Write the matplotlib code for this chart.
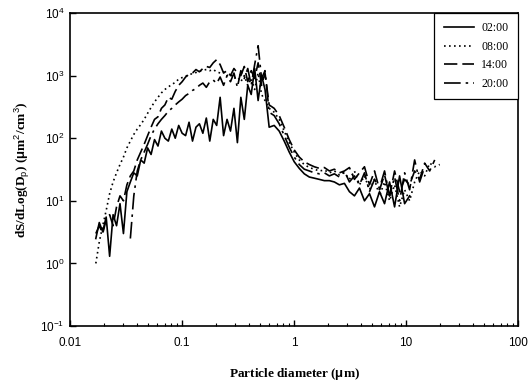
import numpy as np
import matplotlib
matplotlib.use("Agg")
import matplotlib.pyplot as plt
from matplotlib.ticker import FixedLocator, LogLocator, NullFormatter

plt.rcParams['mathtext.fontset'] = 'custom'
plt.rcParams['mathtext.rm'] = 'Liberation Sans'
plt.rcParams['mathtext.it'] = 'Liberation Sans:italic'
plt.rcParams['mathtext.bf'] = 'Liberation Sans:bold'

# SMPS channels (0.017 - 0.55 um) and APS channels (0.6 - 20 um), log spaced
d_smps = np.geomspace(0.017, 0.551, 50)
d_aps = np.geomspace(0.6, 20, 35)

nan = np.nan

s0200_smps = [2.5, 4.5, 3.2, 5.5, 1.3, 6, 4, 9, 3, 14,
              20, 28, 25, 45, 40, 70, 55, 95, 75, 130,
              100, 90, 140, 100, 160, 120, 110, 180, 90, 150,
              170, 120, 210, 90, 200, 160, 450, 110, 200, 130,
              300, 85, 450, 200, 700, 500, 1300, 400, 1000, 600]
s0800_smps = [1.0, 2.2, 4, 7, 13, 20, 28, 38, 50, 70,
              90, 115, 140, 165, 200, 250, 310, 380, 450, 530,
              600, 660, 720, 780, 880, 930, 980, 1030, 1080, 1120,
              1180, 1220, 1250, 1200, 1250, 1150, 1100, 1150, 1000, 1050,
              900, 950, 800, 1000, 700, 900, 600, 1100, 500, 400]
s1400_smps = [3, 4, 3, 5, 6, 4, 8, 12, 10, 18,
              25, 30, 45, 60, 80, 110, 150, 200, 220, 300,
              340, 450, 420, 560, 700, 800, 950, 1050, 1100, 1250,
              1150, 1300, 1400, 1350, 1600, 1800, 1500, 1100, 1200, 1000,
              1300, 1100, 1000, 1400, 800, 1200, 900, 1600, 700, 1100]
s2000_smps = [nan, nan, nan, nan, nan, nan, nan, nan, nan, nan,
              2.5, 12, 30, 45, 60, 80, 110, 140, 170, 200,
              230, 270, 300, 340, 380, 420, 480, 520, 580, 620,
              700, 760, 650, 800, 850, 750, 950, 700, 1000, 800,
              1100, 650, 1200, 900, 1300, 700, 1500, 3000, 900, 1200]

s0200_aps = [150, 160, 130, 90, 60, 42, 33, 27, 24, 23,
             22, 21, 21, 20, 18, 19, 14, 12, 16, 10,
             13, 8, 14, 9, 20, 8, 25, 9, 12, nan,
             nan, nan, nan, nan, nan]
s0800_aps = [300, 260, 200, 130, 85, 60, 45, 38, 34, 32,
             30, 31, 28, 30, 26, 28, 22, 30, 18, 25,
             15, 22, 12, 20, 10, 18, 8, 15, 10, 20,
             30, 25, 40, 35, 38]
s1400_aps = [340, 300, 230, 150, 95, 65, 50, 42, 38, 35,
             33, 34, 30, 32, 28, 30, 34, 22, 28, 35,
             18, 30, 15, 26, 12, 30, 14, 22, 18, 30,
             22, 40, 30, 45, nan]
s2000_aps = [260, 230, 170, 110, 72, 50, 38, 32, 30, 28,
             27, 28, 25, 27, 24, 30, 20, 25, 18, 28,
             14, 22, 16, 30, 12, 24, 10, 28, 15, 45,
             20, 35, nan, nan, nan]

labels = ["02:00", "08:00", "14:00", "20:00"]
series = [s0200_smps + s0200_aps, s0800_smps + s0800_aps,
          s1400_smps + s1400_aps, s2000_smps + s2000_aps]
styles = ['-', (0, (1, 2)), (0, (8, 3)), (0, (10, 3, 1.5, 3))]

d_all = np.concatenate([d_smps, d_aps])

fig = plt.figure(figsize=(5.32, 3.85), dpi=100)
ax = fig.add_axes([0.1316, 0.1532, 0.8421, 0.813])

for lab, vals, ls in zip(labels, series, styles):
    ax.plot(d_all, vals, color='black', linestyle=ls, linewidth=1.2, label=lab)

ax.set_xscale('log')
ax.set_yscale('log')
ax.set_xlim(0.01, 100)
ax.set_ylim(0.1, 10000)

ax.xaxis.set_major_locator(FixedLocator([0.01, 0.1, 1, 10, 100]))
ax.set_xticklabels(["0.01", "0.1", "1", "10", "100"], family='Liberation Sans', fontsize=8.5)
ax.xaxis.set_minor_locator(LogLocator(base=10, subs=np.arange(2, 10)))
ax.xaxis.set_minor_formatter(NullFormatter())
ax.yaxis.set_major_locator(FixedLocator([0.1, 1, 10, 100, 1000, 10000]))
ax.set_yticklabels([r"$10^{-1}$", r"$10^{0}$", r"$10^{1}$", r"$10^{2}$", r"$10^{3}$", r"$10^{4}$"],
                   fontsize=8.5)
ax.yaxis.set_minor_locator(FixedLocator([]))
ax.tick_params(which='both', direction='in', top=False, right=False)
ax.tick_params(axis='x', pad=8)
ax.tick_params(axis='y', pad=4)
ax.tick_params(which='major', length=4, width=1)
ax.tick_params(which='minor', length=2.5, width=0.8)

for sp in ax.spines.values():
    sp.set_linewidth(1.2)

ax.set_xlabel(r"Particle diameter ($\mathbf{\mu}$m)", family='Liberation Serif',
              fontweight='bold', fontsize=9.5, labelpad=12)
ax.set_ylabel(r"dS/dLog(D$_\mathrm{p}$) ($\mathbf{\mu}$m$^2$/cm$^3$)", family='Liberation Serif',
              fontweight='bold', fontsize=9.5, labelpad=6)

leg = ax.legend(loc='upper right', fancybox=False, edgecolor='black', framealpha=1,
                borderaxespad=0, handlelength=2.6, prop={'family': 'Liberation Serif', 'size': 8.5},
                labelspacing=0.55, borderpad=0.8, handletextpad=0.6)
leg.get_frame().set_linewidth(0.9)

fig.savefig("out.png", dpi=100)
